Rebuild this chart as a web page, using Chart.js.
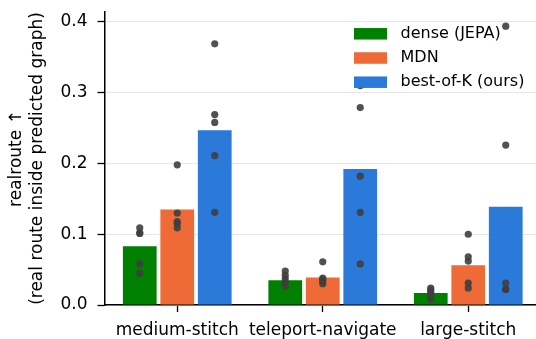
<!DOCTYPE html>
<html><head><meta charset="utf-8">
<script src="https://cdn.jsdelivr.net/npm/chart.js@4.4.0/dist/chart.umd.min.js"></script>
<style>html,body{margin:0;padding:0;background:#fff;overflow:hidden}#wrap{width:536px;height:339px;overflow:hidden}</style>
</head><body><div id="wrap"><canvas id="c" width="541" height="339" style="width:541px;height:339px;display:block"></canvas></div>
<script>
const categories = ['medium-stitch', 'teleport-navigate', 'large-stitch'];
const seriesNames = ['dense (JEPA)', 'MDN', 'best-of-K (ours)'];
const seriesColors = ['#008000', '#EE6A36', '#2B79D9'];
const denseMeans = [0.083, 0.035, 0.017];
const mdnMeans = [0.135, 0.039, 0.056];
const bokMeans = [0.247, 0.192, 0.139];
const densePoints = [[0.109, 0.102, 0.101, 0.058, 0.045], [0.048, 0.042, 0.037, 0.032, 0.026], [0.024, 0.021, 0.018, 0.012, 0.008]];
const mdnPoints = [[0.198, 0.130, 0.118, 0.115, 0.109], [0.061, 0.038, 0.036, 0.034, 0.030], [0.100, 0.068, 0.062, 0.031, 0.024]];
const bokPoints = [[0.369, 0.269, 0.258, 0.211, 0.131], [0.310, 0.279, 0.182, 0.131, 0.058], [0.394, 0.226, 0.031, 0.022, 0.022]];
const yTicks = [0.0, 0.1, 0.2, 0.3, 0.4];
const yTitle = ['realroute \u2191', '(real route inside predicted graph)'];

const allMeans = [denseMeans, mdnMeans, bokMeans];
const allPoints = [densePoints, mdnPoints, bokPoints];
const FONT = 'DejaVu Sans';

const dotsPlugin = {
  id: 'dots',
  afterDatasetsDraw(chart) {
    const ctx = chart.ctx, ys = chart.scales.y;
    ctx.save();
    ctx.fillStyle = 'rgba(62,62,62,0.9)';
    chart.data.datasets.forEach((ds, i) => {
      const meta = chart.getDatasetMeta(i);
      meta.data.forEach((bar, j) => {
        allPoints[i][j].forEach(v => {
          ctx.beginPath();
          ctx.arc(bar.x, ys.getPixelForValue(v), 3.6, 0, Math.PI * 2);
          ctx.fill();
        });
      });
    });
    ctx.restore();
  }
};

const legendPlugin = {
  id: 'customLegend',
  afterDraw(chart) {
    const ctx = chart.ctx, a = chart.chartArea;
    const px = a.right - 187, pw = 33, ph = 11.5;
    ctx.save();
    ctx.font = '16px "' + FONT + '"';
    ctx.textBaseline = 'middle';
    ctx.textAlign = 'left';
    chart.data.datasets.forEach((ds, i) => {
      const cy = a.top + 21.8 + i * 24.2;
      ctx.fillStyle = ds.backgroundColor;
      ctx.fillRect(px, cy - ph / 2, pw, ph);
      ctx.fillStyle = '#000';
      ctx.fillText(ds.label, px + 46.5, cy);
    });
    ctx.restore();
  }
};

new Chart(document.getElementById('c'), {
  type: 'bar',
  data: {
    labels: categories,
    datasets: seriesNames.map((n, i) => ({
      label: n,
      data: allMeans[i],
      backgroundColor: seriesColors[i],
      borderWidth: 0,
      categoryPercentage: 0.773,
      barPercentage: 0.9
    }))
  },
  options: {
    responsive: false,
    devicePixelRatio: 1,
    animation: false,
    layout: { padding: { top: 12, right: 0, left: 0, bottom: 0 } },
    plugins: { legend: { display: false }, tooltip: { enabled: false } },
    scales: {
      x: {
        type: 'category',
        offset: true,
        grid: { display: true, drawOnChartArea: false, drawTicks: true, tickLength: 7, tickColor: '#000', tickWidth: 1.3, offset: false },
        border: { display: true, color: '#000', width: 1.5 },
        ticks: { color: '#000', font: { family: FONT, size: 17 }, padding: 8, maxRotation: 0, autoSkip: false },
        afterFit(s) { s.height = 34; s.paddingLeft = 0; s.paddingRight = 0; }
      },
      y: {
        min: 0,
        max: 0.414,
        afterBuildTicks(s) { s.ticks = yTicks.map(v => ({ value: v })); },
        grid: { color: '#e6e6e6', lineWidth: 1, drawTicks: true, tickLength: 7, tickColor: '#000', tickWidth: 1.3 },
        border: { display: true, color: '#000', width: 1.5 },
        ticks: { color: '#000', font: { family: FONT, size: 17 }, padding: 10, callback: v => Number(v).toFixed(1) },
        title: { display: true, text: yTitle, color: '#000', font: { family: FONT, size: 17, lineHeight: 1.25 }, padding: { top: 5.5, bottom: 0 } },
        afterFit(s) { s.width = 104.5; s.paddingTop = 0; s.paddingBottom = 0; }
      }
    }
  },
  plugins: [dotsPlugin, legendPlugin]
});
</script></body></html>
